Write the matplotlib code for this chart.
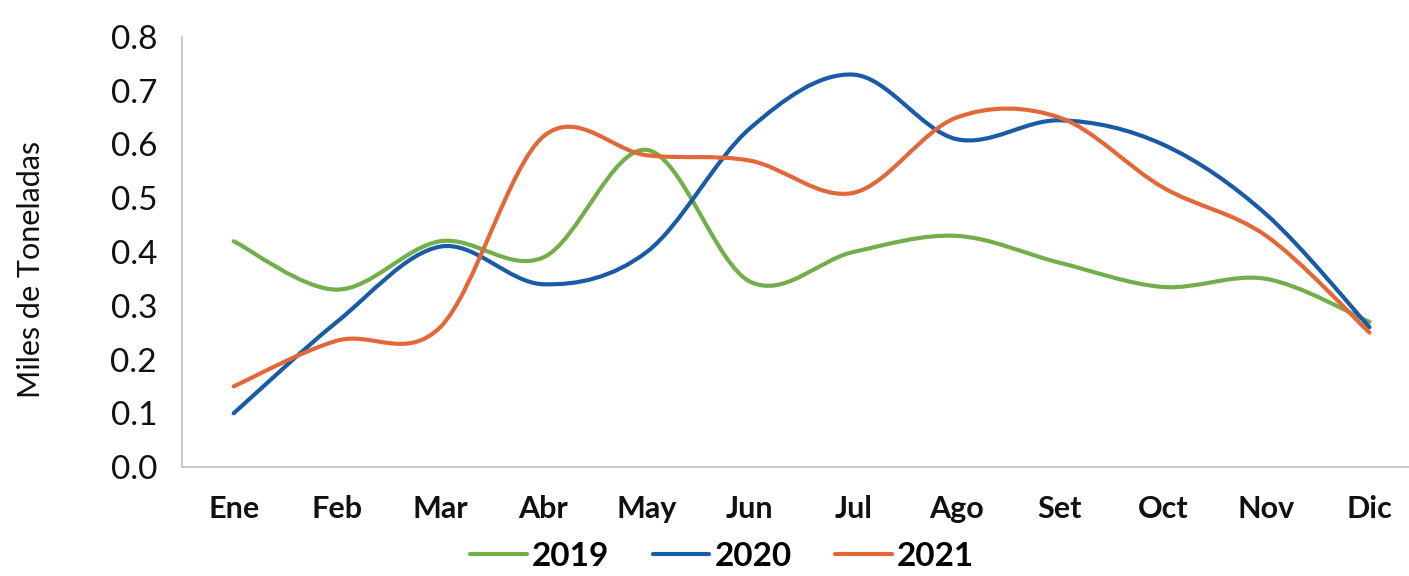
import numpy as np
import matplotlib.pyplot as plt
from matplotlib.path import Path
from matplotlib.patches import PathPatch
from matplotlib.lines import Line2D

# Data (miles de toneladas)
meses = ['Ene', 'Feb', 'Mar', 'Abr', 'May', 'Jun', 'Jul', 'Ago', 'Set', 'Oct', 'Nov', 'Dic']
v2019 = [0.42, 0.33, 0.42, 0.39, 0.59, 0.345, 0.40, 0.43, 0.38, 0.335, 0.35, 0.27]
v2020 = [0.10, 0.27, 0.41, 0.34, 0.40, 0.63, 0.73, 0.61, 0.645, 0.60, 0.47, 0.26]
v2021 = [0.15, 0.235, 0.26, 0.615, 0.58, 0.57, 0.51, 0.65, 0.65, 0.52, 0.43, 0.25]

series = [('2019', v2019, '#72AF4A'),
          ('2020', v2020, '#1A5BA6'),
          ('2021', v2021, '#E2683A')]


def smooth_path(x, y):
    # Excel-style smoothed line: cubic Bezier segments through each point
    pts = np.column_stack([x, y]).astype(float)
    n = len(pts)
    verts = [pts[0]]
    codes = [Path.MOVETO]
    for i in range(n - 1):
        p0 = pts[max(i - 1, 0)]
        p1 = pts[i]
        p2 = pts[i + 1]
        p3 = pts[min(i + 2, n - 1)]
        c1 = p1 + (p2 - p0) / 6.0
        c2 = p2 - (p3 - p1) / 6.0
        verts += [c1, c2, p2]
        codes += [Path.CURVE4] * 3
    return Path(verts, codes)


plt.rcParams['font.family'] = ['Lato', 'DejaVu Sans']

fig = plt.figure(figsize=(14.09, 5.76), dpi=100)
ax = fig.add_axes([0.1292, 0.1892, 0.8794, 0.7466])

x = np.arange(len(meses))
handles = []
for name, vals, color in series:
    patch = PathPatch(smooth_path(x, vals), facecolor='none', edgecolor=color,
                      lw=3.0, capstyle='round', joinstyle='round')
    ax.add_patch(patch)
    handles.append(Line2D([], [], color=color, lw=3.0, solid_capstyle='round', label=name))

ax.set_xlim(-0.5, len(meses) - 0.5)
ax.set_ylim(0, 0.8)
ax.set_xticks(x)
ax.set_xticklabels(meses, fontsize=22, fontweight='bold', color='#111111')
ax.set_yticks(np.arange(0, 0.81, 0.1))
ax.set_yticklabels([f'{v:.1f}' for v in np.arange(0, 0.81, 0.1)], fontsize=24, color='#111111')
ax.tick_params(axis='both', length=0)
ax.tick_params(axis='x', pad=20)
ax.tick_params(axis='y', pad=18)

for side in ['top', 'right']:
    ax.spines[side].set_visible(False)
for side in ['left', 'bottom']:
    ax.spines[side].set_color('#BFBFBF')
    ax.spines[side].set_linewidth(1.2)

ax.set_ylabel('Miles de Toneladas', fontsize=22, color='#111111')
ax.yaxis.set_label_coords(-0.111, 0.46)

leg = fig.legend(handles=handles, loc='center', bbox_to_anchor=(722 / 1409, 1 - 556 / 576),
                 ncol=3, frameon=False, handlelength=1.7, handletextpad=0.15,
                 columnspacing=1.3, prop={'size': 24, 'weight': 'bold'})

fig.savefig('out.png', dpi=100)
